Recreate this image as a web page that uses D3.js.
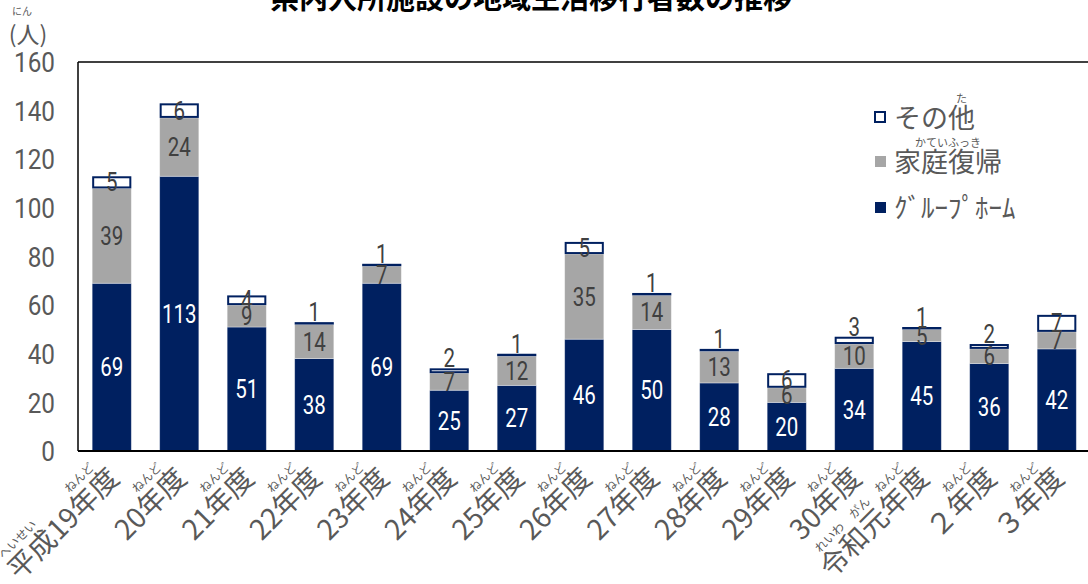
<!DOCTYPE html>
<html><head><meta charset="utf-8">
<script src="https://cdn.jsdelivr.net/npm/d3@7"></script>
<style>
html,body{margin:0;padding:0;background:#fff;}
svg{display:block;}
</style>
</head><body>
<svg id="chart" width="1088" height="584"></svg>
<script>
// ---- data ----
const categories = ["平成19年度","20年度","21年度","22年度","23年度","24年度","25年度","26年度","27年度","28年度","29年度","30年度","令和元年度","２年度","３年度"];
// ruby: [start char index, char count, reading]
const categoryRuby = [
  [[0,2,"へいせい"],[4,2,"ねんど"]],
  [[2,2,"ねんど"]],[[2,2,"ねんど"]],[[2,2,"ねんど"]],[[2,2,"ねんど"]],[[2,2,"ねんど"]],
  [[2,2,"ねんど"]],[[2,2,"ねんど"]],[[2,2,"ねんど"]],[[2,2,"ねんど"]],[[2,2,"ねんど"]],[[2,2,"ねんど"]],
  [[0,2,"れいわ"],[2,1,"がん"],[3,2,"ねんど"]],
  [[1,2,"ねんど"]],[[1,2,"ねんど"]]
];
const groupHome = [69,113,51,38,69,25,27,46,50,28,20,34,45,36,42];
const homeReturn = [39,24,9,14,7,7,12,35,14,13,6,10,5,6,7];
const others = [5,6,4,1,1,2,1,5,1,1,6,3,1,2,7];
const yTicks = [0,20,40,60,80,100,120,140,160];
const legendLabels = ["その他","家庭復帰","ｸﾞﾙｰﾌﾟﾎｰﾑ"];
const legendRuby = [[2,1,"た"],[0,4,"かていふっき"],null];
const titleText = "県内入所施設の地域生活移行者数の推移";

// ---- layout ----
const NAVY = "#002060", GRAY = "#a6a6a6", TXT = "#595959";
const numFont = "'Liberation Sans Narrow','Arial Narrow','Roboto',sans-serif";
const jpFont = "'Noto Sans CJK JP','Noto Sans',sans-serif";
const svg = d3.select("#chart");
const plot = {left:78, top:62, right:1090.5, bottom:451};

const x = d3.scaleBand().domain(categories).range([plot.left, plot.right]).paddingInner(0.42).paddingOuter(0.21);
const y = d3.scaleLinear().domain([0,160]).range([plot.bottom, plot.top]);

// title
svg.append("text").attr("x", 531).attr("y", 9).attr("text-anchor","middle")
  .attr("font-family", jpFont).attr("font-weight","bold").attr("font-size", 29).attr("fill","#000")
  .text(titleText);

// unit label
svg.append("text").attr("x", 22).attr("y", 15).attr("text-anchor","middle")
  .attr("font-family", jpFont).attr("font-size", 10).attr("fill", TXT).text("にん");
svg.append("text").attr("x", 28).attr("y", 43).attr("text-anchor","middle")
  .attr("font-family", jpFont).attr("font-size", 23).attr("fill", TXT).text("(人)");

// y axis labels
const yAxis = d3.axisLeft(y).tickValues(yTicks).tickSize(0).tickPadding(0);
const yg = svg.append("g").attr("transform", `translate(55,0)`).call(yAxis);
yg.select(".domain").remove();
yg.selectAll("text").attr("font-family", numFont).attr("font-size", 27).attr("fill", TXT)
  .attr("dy","0.36em").attr("transform","scale(0.9,1)");

// stack
const stackData = categories.map((c,i)=>({cat:c, gh:groupHome[i], hr:homeReturn[i], ot:others[i]}));
const stack = d3.stack().keys(["gh","hr","ot"])(stackData);
const fills = [NAVY, GRAY, "#ffffff"];

stack.forEach((layer, li) => {
  const g = svg.append("g");
  g.selectAll("rect").data(layer).join("rect")
    .attr("x", d => li===2 ? x(d.data.cat)+1 : x(d.data.cat))
    .attr("width", li===2 ? x.bandwidth()-2 : x.bandwidth())
    .attr("y", d => li===2 ? y(d[1])+1 : y(d[1]))
    .attr("height", d => li===2 ? Math.max(0, y(d[0]) - y(d[1]) - 2) : y(d[0]) - y(d[1]))
    .attr("fill", fills[li])
    .attr("stroke", li===2 ? NAVY : "rgba(255,255,255,0.45)")
    .attr("stroke-width", li===2 ? 2 : 0.8);
});

// frame
svg.append("line").attr("x1", plot.left).attr("x2", 1088).attr("y1", plot.top).attr("y2", plot.top).attr("stroke","#000").attr("stroke-width",1.5);
svg.append("line").attr("x1", plot.left).attr("x2", plot.left).attr("y1", plot.top).attr("y2", plot.bottom).attr("stroke","#000").attr("stroke-width",1.5);
svg.append("line").attr("x1", plot.left).attr("x2", 1088).attr("y1", plot.bottom).attr("y2", plot.bottom).attr("stroke","#000").attr("stroke-width",2);

// value labels
stack.forEach((layer, li) => {
  svg.append("g").selectAll("text").data(layer).join("text")
    .attr("transform", d => {
      const v = d[1]-d[0];
      const cx = x(d.data.cat) + x.bandwidth()/2;
      const ty = (li===2 && v < 4) ? y(d[1]) - 1 : (y(d[0]) + y(d[1]))/2 + 9;
      return `translate(${cx},${ty}) scale(0.82,1)`;
    })
    .attr("text-anchor","middle")
    .attr("font-family", numFont).attr("font-size", 25)
    .attr("fill", li===0 ? "#ffffff" : "#404040")
    .text(d => d[1]-d[0]);
});

// x labels (rotated with ruby)
const labelSize = 28;
categories.forEach((c, i) => {
  const cx = x(c) + x.bandwidth()/2;
  const g = svg.append("g").attr("transform", `translate(${cx + 9},${480}) rotate(-45)`);
  const t = g.append("text").attr("x",0).attr("y",0).attr("text-anchor","end")
    .attr("font-family", jpFont).attr("font-size", labelSize).attr("fill", TXT).text(c);
  const node = t.node();
  const L = node.getComputedTextLength();
  categoryRuby[i].forEach(([s,n,r]) => {
    const start = -L + (s>0 ? node.getSubStringLength(0,s) : 0);
    const w = node.getSubStringLength(s,n);
    g.append("text").attr("x", start + w/2).attr("y", -labelSize*0.95)
      .attr("text-anchor","middle").attr("font-family", jpFont).attr("font-size", 12).attr("fill", TXT).text(r);
  });
});

// legend
const legendY = [118, 162, 208];
const legendFill = ["#ffffff", GRAY, NAVY];
legendLabels.forEach((lab, i) => {
  svg.append("rect").attr("x", 875).attr("y", legendY[i]-6).attr("width", i===0?10:11).attr("height", i===0?10:11)
    .attr("fill", legendFill[i]).attr("stroke", i===0 ? NAVY : "none").attr("stroke-width", 2);
  const t = svg.append("text").attr("x", 894).attr("y", legendY[i]+10)
    .attr("font-family", jpFont).attr("font-size", 27).attr("fill", TXT).text(lab);
  const rb = legendRuby[i];
  if (rb) {
    const node = t.node();
    const start = rb[0]>0 ? node.getSubStringLength(0, rb[0]) : 0;
    const w = node.getSubStringLength(rb[0], rb[1]);
    svg.append("text").attr("x", 894 + start + w/2).attr("y", legendY[i]-15)
      .attr("text-anchor","middle").attr("font-family", jpFont).attr("font-size", 11).attr("fill", TXT).text(rb[2]);
  }
});
</script>
</body></html>
